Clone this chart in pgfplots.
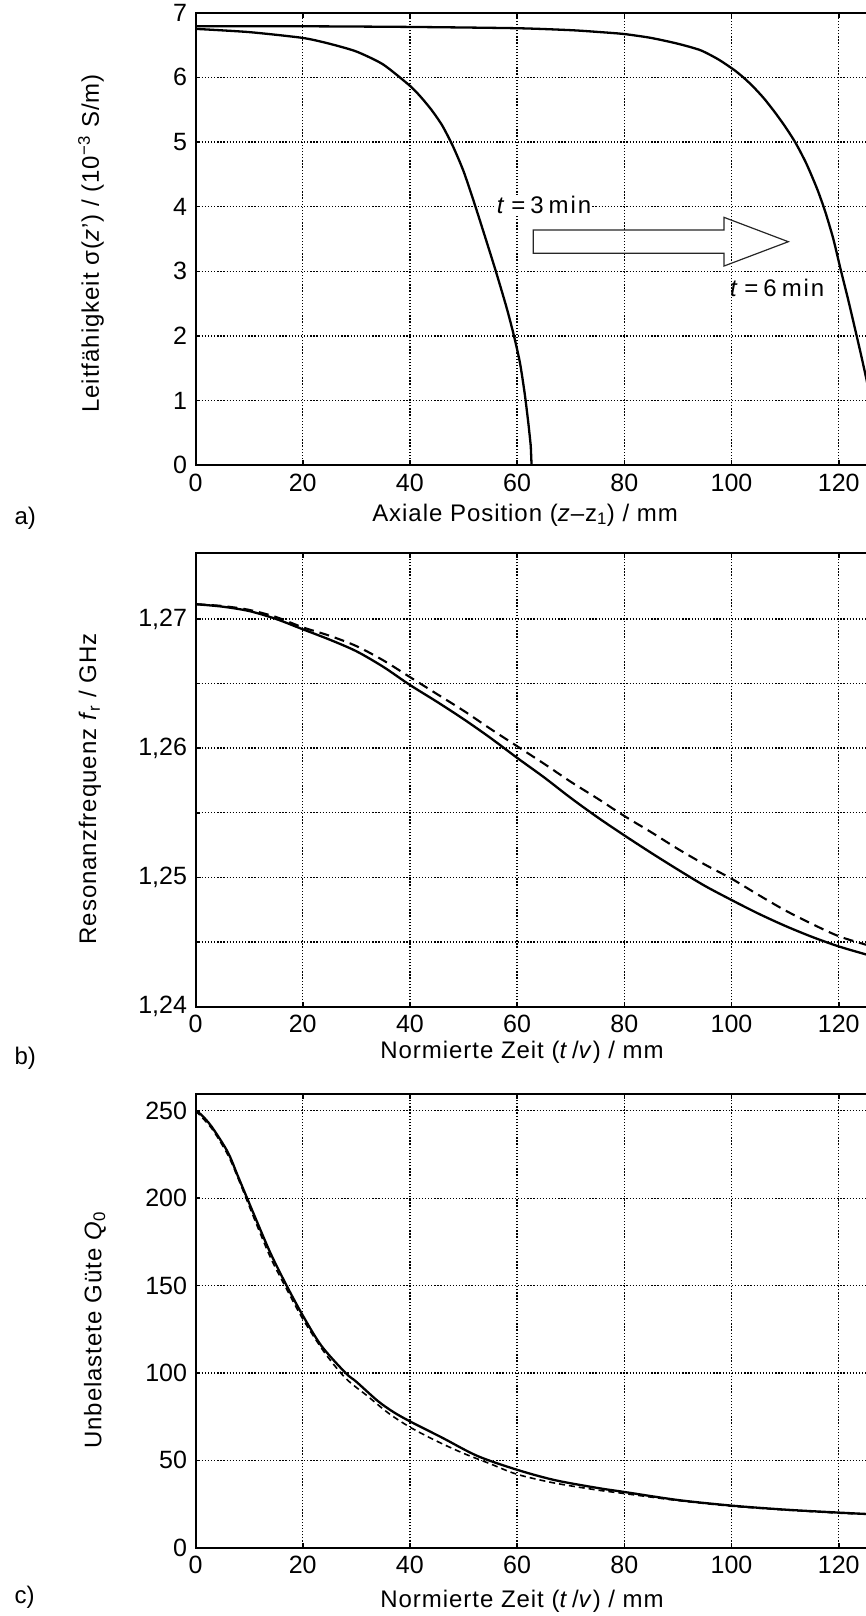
\documentclass[border=0pt]{standalone}
\usepackage{fontspec}
\setmainfont{Liberation Sans}
\newfontfamily\spaced[LetterSpace=4]{Liberation Sans}
\newfontfamily\wide[LetterSpace=8]{Liberation Sans}
\usepackage{pgfplots}
\pgfplotsset{compat=1.18}

\pgfplotsset{
  refstyle/.style={
    scale only axis,
    width=696.8pt,
    xmin=0, xmax=130,
    xtick={0,20,...,120},
    grid=major,
    major grid style={black, line width=1.3pt, dash pattern=on 1.3pt off 1.8pt},
    minor grid style={black, line width=1.3pt, dash pattern=on 1.3pt off 1.8pt},
    axis line style={black, line width=2pt},
    tick style={black, line width=1.6pt},
    major tick length=5pt,
    minor tick length=4pt,
    tick align=inside,
    /pgf/number format/assume math mode=true,
    ticklabel style={font=\fontsize{25}{29}\selectfont},
    label style={font=\fontsize{24}{28}\spaced\selectfont},
    yticklabel style={xshift=-5pt},
    xticklabel style={yshift=-5pt},
    every axis plot/.append style={black},
  }
}

\begin{document}
\begin{tikzpicture}
\useasboundingbox (0pt,0pt) rectangle (866pt,-1616pt);

% ---------------- a) ----------------
\begin{axis}[refstyle,
  at={(195.5pt,-465.3pt)}, anchor=south west,
  height=452.6pt,
  ymin=0, ymax=7, ytick={0,...,7},
  xlabel={Axiale Position (\textit{z}–z\textsubscript{1}) / mm},
  xlabel style={at={(axis description cs:0.4729,0)}, anchor=base, yshift=-55.7pt},
  ylabel={Leitfähigkeit σ(\textit{z}’) / (10\textsuperscript{−3} S/m)},
  ylabel style={at={(axis description cs:-0.150,0.49)}, anchor=center},
]
\addplot[line width=2.3pt, smooth, tension=0.4] coordinates {
 (0,6.75) (10,6.70) (20,6.61) (25,6.52) (30,6.40) (35,6.20) (40,5.87)
 (42,5.70) (44,5.50) (46,5.26) (48,4.94) (50,4.55) (52,4.06) (54,3.54)
 (56,3.01) (58,2.45) (59.3,2.04) (60.5,1.60) (61.4,1.12) (62.1,0.65) (62.55,0.3)
};
\addplot[line width=2.3pt] coordinates {
 (62.55,0.3) (62.7,0) (130,0)
};
\addplot[line width=2.3pt, smooth, tension=0.4] coordinates {
 (0,6.79) (20,6.79) (40,6.78) (60,6.76) (70,6.73) (75.5,6.70) (80,6.67)
 (85,6.61) (90,6.52) (94.2,6.42) (97.5,6.28) (100.4,6.12) (102.2,6.00)
 (104,5.86) (106,5.68) (108,5.47) (110,5.24) (112,4.98) (114,4.66)
 (116,4.27) (117.5,3.92) (119,3.50) (120.3,3.05) (121.8,2.55) (123.3,2.02)
 (124.3,1.66) (125.2,1.32) (126,1.0)
};
\draw[line width=1.2pt, draw=black!85]
  (axis cs:63.0,3.640) -- (axis cs:98.6,3.640) -- (axis cs:98.6,3.835)
  -- (axis cs:110.6,3.458) -- (axis cs:98.6,3.082) -- (axis cs:98.6,3.279)
  -- (axis cs:63.0,3.279) -- cycle;
\node[anchor=west, fill=white, inner sep=1pt, font=\fontsize{24}{28}\wide\selectfont]
  at (axis cs:56.0,4.03) {\textit{t}\hspace{5pt}=\hspace{5pt}3\hspace{5pt}min};
\node[anchor=west, inner sep=1pt, font=\fontsize{24}{28}\wide\selectfont]
  at (axis cs:99.5,2.74) {\textit{t}\hspace{5pt}=\hspace{5pt}6\hspace{5pt}min};
\end{axis}

% ---------------- b) ----------------
\begin{axis}[refstyle,
  at={(195.5pt,-1006.6pt)}, anchor=south west,
  height=453.6pt,
  ymin=1.24, ymax=1.2751,
  ytick={1.24,1.25,1.26,1.27},
  minor ytick={1.245,1.255,1.265},
  grid=both,
  yticklabel style={/pgf/number format/.cd, fixed, fixed zerofill, precision=2, use comma},
  xlabel={Normierte Zeit (\textit{t}\,/\textit{v}) / mm},
  xlabel style={at={(axis description cs:0.4686,0)}, anchor=base, yshift=-51.4pt},
  ylabel={Resonanzfrequenz \textit{f}\textsubscript{r} / GHz},
  ylabel style={at={(axis description cs:-0.1514,0.48)}, anchor=center},
]
\addplot[line width=2.3pt, smooth, tension=0.5] coordinates {
 (0,1.27114) (5,1.27095) (10,1.27061) (15,1.27000) (20,1.26920) (25,1.26840)
 (30,1.26750) (35,1.26630) (40,1.26489) (45,1.26360) (50,1.26225) (55,1.26080)
 (60,1.25925) (65,1.25775) (70,1.25615) (75,1.25465) (80,1.25325) (85,1.25190)
 (90,1.25060) (95,1.24935) (100,1.24825) (105,1.24720) (110,1.24625)
 (115,1.24540) (120,1.24466) (125,1.24405) (130,1.24350)
};
\addplot[line width=2.1pt, dash pattern=on 10pt off 6pt, smooth, tension=0.5] coordinates {
 (0,1.27114) (5,1.27100) (10,1.27070) (15,1.27015) (20,1.26935) (25,1.26870)
 (30,1.26790) (35,1.26680) (40,1.26550) (45,1.26420) (50,1.26290) (55,1.26150)
 (60,1.26015) (65,1.25880) (70,1.25740) (75,1.25610) (80,1.25475) (85,1.25350)
 (90,1.25220) (95,1.25100) (100,1.24990) (105,1.24865) (110,1.24745)
 (115,1.24640) (120,1.24545) (125,1.24480) (130,1.24420)
};
\end{axis}

% ---------------- c) ----------------
\begin{axis}[refstyle,
  at={(195.5pt,-1547.7pt)}, anchor=south west,
  height=453.3pt,
  ymin=0, ymax=259.4,
  ytick={0,50,...,250},
  xlabel={Normierte Zeit (\textit{t}\,/\textit{v}) / mm},
  xlabel style={at={(axis description cs:0.4686,0)}, anchor=base, yshift=-59.3pt},
  ylabel={Unbelastete Güte \textit{Q}\textsubscript{0}},
  ylabel style={at={(axis description cs:-0.1442,0.48)}, anchor=center},
]
\addplot[line width=2.3pt, smooth, tension=0.5] coordinates {
 (0,250) (1,248) (3,241) (6,226.5) (8,212) (11,190) (14,168.5) (17,150)
 (20,133) (23.5,115.5) (28,100) (30,95) (34,84) (37,77.5) (40.2,72) (46,63)
 (52.6,52.5) (60,44.6) (67,38.7) (75,34.2) (80,31.9) (90,27.3) (100,24.1)
 (110,21.8) (120,20.1) (126,19.2) (130,18.7)
};
\addplot[line width=1.6pt, dash pattern=on 6pt off 4pt, smooth, tension=0.5] coordinates {
 (0,250) (3,240) (6,225) (8,211) (11,188) (14,166) (17,148) (20,131)
 (24,112) (28,97) (32,87) (36,77) (40,69) (45,61) (50,54) (55,48) (60,42)
 (67,37) (75,33) (80,31) (90,27) (100,23.8) (110,21.6) (120,19.8)
 (126,19) (130,18.5)
};
\end{axis}

\node[anchor=west, font=\fontsize{24}{28}\selectfont] at (11pt,-518pt) {a)};
\node[anchor=west, font=\fontsize{24}{28}\selectfont] at (11pt,-1058pt) {b)};
\node[anchor=west, font=\fontsize{24}{28}\selectfont] at (11pt,-1597pt) {c)};
\end{tikzpicture}
\end{document}
